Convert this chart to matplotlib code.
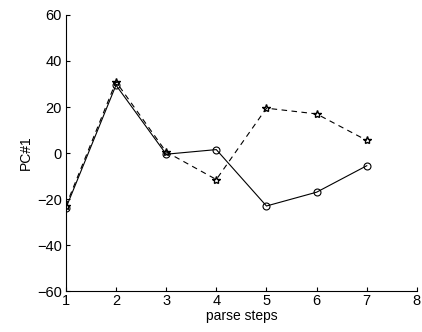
import matplotlib
matplotlib.use("Agg")
from matplotlib import pyplot as plt

plt.rcParams['font.family'] = ['Liberation Sans', 'DejaVu Sans']

steps = [1, 2, 3, 4, 5, 6, 7]
pc_solid = [-24, 29.5, -0.5, 1.5, -23, -17, -5.5]
pc_dashed = [-23, 31, 0.5, -11.5, 19.5, 17, 5.5]

fig = plt.figure(figsize=(4.22, 3.32), dpi=100)
ax = fig.add_axes([0.156, 0.123, 0.832, 0.832])

ax.plot(steps, pc_solid, 'k-o', lw=0.8, markersize=5, markerfacecolor='none', markeredgewidth=0.8)
ax.plot(steps, pc_dashed, 'k--*', lw=0.8, markersize=6, markerfacecolor='none', markeredgewidth=1.0,
        dashes=(5, 4))

ax.set_xlim(1, 8)
ax.set_ylim(-60, 60)
ax.set_xticks(range(1, 9))
ax.set_yticks(range(-60, 61, 20))
ax.set_yticklabels(['\u221260', '\u221240', '\u221220', '0', '20', '40', '60'])
ax.tick_params(direction='in', length=3, width=0.8, labelsize=10.5)
ax.tick_params(axis='x', pad=2)
ax.tick_params(axis='y', pad=3)
ax.spines['top'].set_visible(False)
ax.spines['right'].set_visible(False)
ax.set_xlabel('parse steps', fontsize=10, labelpad=1)
ax.set_ylabel('PC#1', fontsize=10, labelpad=3)

fig.savefig('out.png', dpi=100)
